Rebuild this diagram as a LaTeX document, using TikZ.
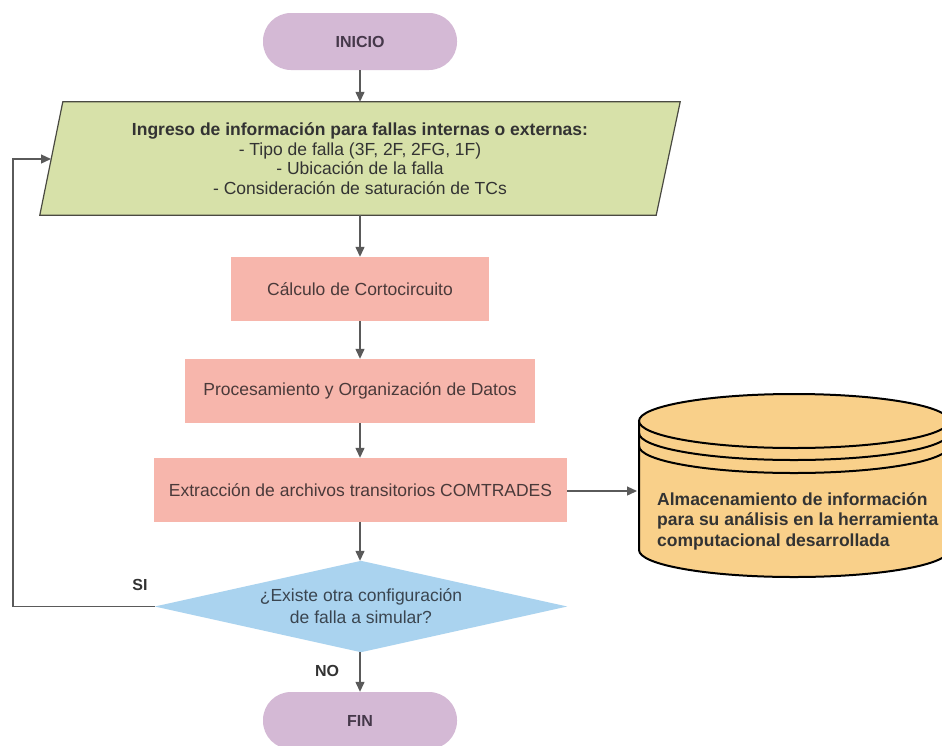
\documentclass[tikz,border=0pt]{standalone}
\usepackage{fontspec}
\setmainfont{Liberation Sans}
\usetikzlibrary{arrows.meta,calc,backgrounds}

\definecolor{lineGray}{HTML}{5A5A5A}
\definecolor{termFill}{HTML}{D4B9D5}
\definecolor{termText}{HTML}{45384A}
\definecolor{ioFill}{HTML}{D7E1A9}
\definecolor{ioBorder}{HTML}{4A4A42}
\definecolor{procFill}{HTML}{F7B6AC}
\definecolor{procText}{HTML}{4A3A3A}
\definecolor{decFill}{HTML}{AAD3EF}
\definecolor{decText}{HTML}{3A4550}
\definecolor{dbFill}{HTML}{F9D08A}
\definecolor{darkText}{HTML}{333333}

\tikzset{
  x=1pt, y=1pt,
  terminal/.style={rectangle, rounded corners=28pt, fill=termFill, text=termText,
    minimum width=194pt, minimum height=57pt, inner sep=0pt,
    font=\fontsize{16}{19}\selectfont\bfseries},
  procbox/.style={rectangle, fill=procFill, text=procText, minimum height=64pt,
    inner sep=0pt, font=\fontsize{17.5}{20}\selectfont},
  flow/.style={draw=lineGray, line width=1.3pt,
    -{Triangle[length=10pt,width=9pt]}},
  branchlabel/.style={text=darkText, font=\fontsize{16}{19}\selectfont\bfseries},
  dbline/.style={draw=black, line width=2pt},
}

\begin{document}
\begin{tikzpicture}
\useasboundingbox (0,0) rectangle (942,-745);
\clip (0,0) rectangle (942,-745);

% start / end terminals
\node[terminal] (ini) at (360,-41.5) {INICIO};
\node[terminal] (fin) at (360,-720.5) {FIN};

% data input (parallelogram drawn behind the text node)
\node[rectangle, minimum width=640pt, minimum height=113pt, inner sep=0pt,
      align=center, text=darkText, font=\fontsize{17.5}{19.5}\selectfont] (ing) at (360,-158.5)
  {{\bfseries Ingreso de información para fallas internas o externas:}\\
   - Tipo de falla (3F, 2F, 2FG, 1F)\\
   - Ubicación de la falla\\
   - Consideración de saturación de TCs};
\coordinate (lin) at (51,-159);

% process steps
\node[procbox, minimum width=258pt] (calc) at (360,-289) {Cálculo de Cortocircuito};
\node[procbox, minimum width=350pt] (proc) at (360,-391) {Procesamiento y Organización de Datos};
\node[procbox, minimum width=413pt] (ext)  at (360.5,-490) {Extracción de archivos transitorios COMTRADES};

% decision (diamond drawn behind the text node)
\node[rectangle, minimum width=412pt, minimum height=91pt, inner sep=0pt,
      align=center, text=decText, font=\fontsize{17.5}{22}\selectfont] (dec) at (361,-606.5)
  {¿Existe otra configuración\\de falla a simular?};

\begin{scope}[on background layer]
  \fill[white] (0,0) rectangle (942,-745);
  \filldraw[fill=ioFill, draw=ioBorder, line width=1.2pt]
    (ing.south west) -- ($(ing.south east)+(-24,0)$) -- (ing.north east)
    -- ($(ing.north west)+(23,0)$) -- cycle;
  \fill[decFill] (dec.west) -- (dec.north) -- (dec.east) -- (dec.south) -- cycle;
\end{scope}

% storage cylinder
\filldraw[dbline, fill=dbFill] (639,-421) -- (639,-550)
  arc[start angle=180, end angle=360, x radius=155pt, y radius=27pt]
  -- (949,-421) -- cycle;
\filldraw[dbline, fill=dbFill] (794,-421) ellipse[x radius=155pt, y radius=27pt];
\draw[dbline] (639,-433) arc[start angle=180, end angle=360, x radius=155pt, y radius=27pt];
\draw[dbline] (639,-446) arc[start angle=180, end angle=360, x radius=155pt, y radius=27pt];
\node[anchor=west, align=left, text=darkText, inner sep=0pt,
      font=\fontsize{17.5}{20.5}\selectfont\bfseries] (db) at (657,-521)
  {Almacenamiento de información\\para su análisis en la herramienta\\computacional desarrollada};
\coordinate (dbin) at (637,-491);

% connectors
\draw[flow] (ini.south) -- (ing.north);
\draw[flow] (ing.south) -- (calc.north);
\draw[flow] (calc.south) -- (proc.north);
\draw[flow] (proc.south) -- (ext.north -| proc.south);
\draw[flow] (ext.south -| proc.south) -- (dec.north -| proc.south);
\draw[flow] (dec.south -| proc.south) -- (fin.north);
\draw[flow] (ext.east |- dbin) -- (dbin);
\draw[flow] (dec.west) -- (13,-606.5) |- (lin);

% branch labels
\node[branchlabel] (si) at (140,-585) {SI};
\node[branchlabel] (no) at (327,-671) {NO};
\end{tikzpicture}
\end{document}
